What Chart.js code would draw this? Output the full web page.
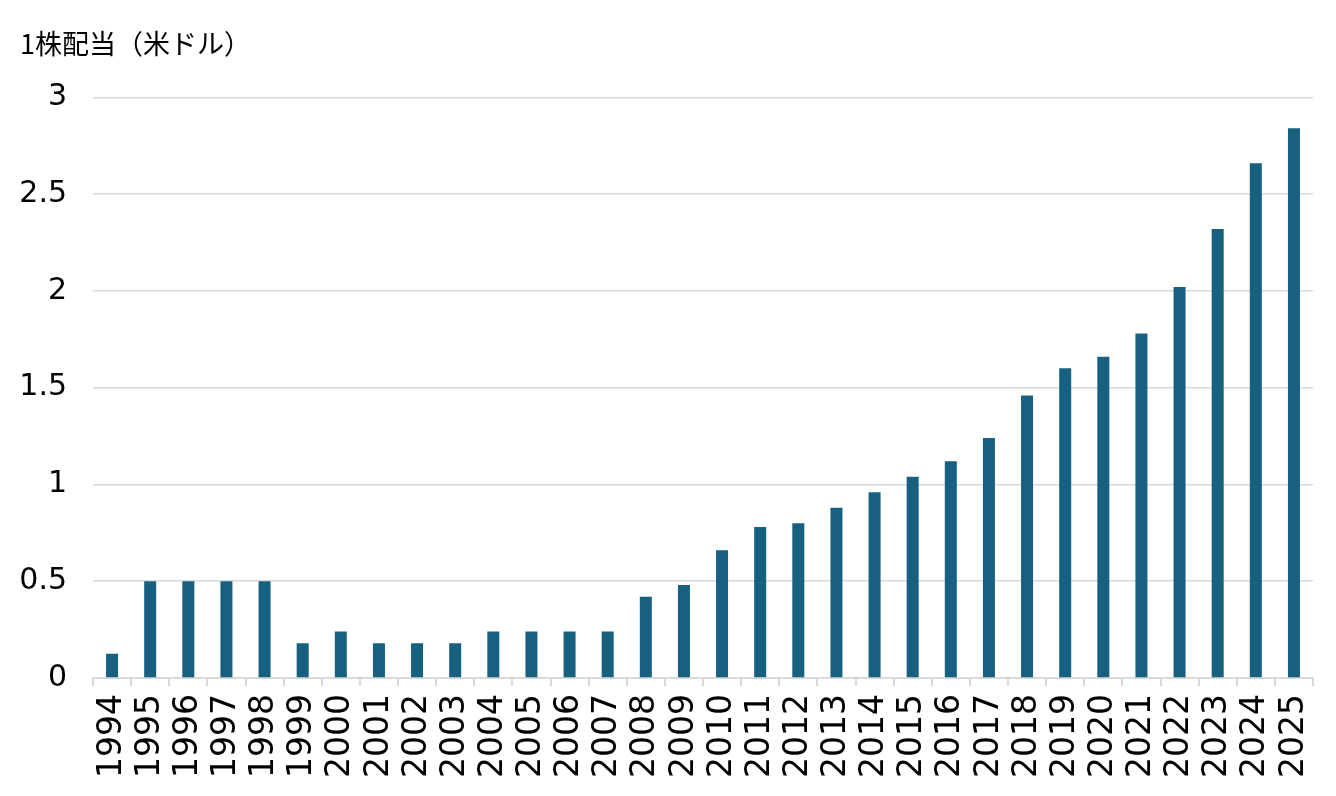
<!DOCTYPE html>
<html>
<head>
<meta charset="utf-8">
<script src="https://cdn.jsdelivr.net/npm/chart.js@4/dist/chart.umd.min.js"></script>
<style>
  html, body { margin: 0; padding: 0; background: #fff; }
  #wrap { width: 1336px; height: 796px; }
</style>
</head>
<body>
<div id="wrap"><canvas id="grafico_dividendo"></canvas></div>
<script>
/* 1株配当の推移（年次） */
const anos = [
  '1994', '1995', '1996', '1997', '1998', '1999', '2000', '2001',
  '2002', '2003', '2004', '2005', '2006', '2007', '2008', '2009',
  '2010', '2011', '2012', '2013', '2014', '2015', '2016', '2017',
  '2018', '2019', '2020', '2021', '2022', '2023', '2024', '2025'
];

const dividendos = [
  0.125, 0.5, 0.5, 0.5, 0.5, 0.18, 0.24, 0.18,
  0.18, 0.18, 0.24, 0.24, 0.24, 0.24, 0.42, 0.48,
  0.66, 0.78, 0.80, 0.88, 0.96, 1.04, 1.12, 1.24,
  1.46, 1.60, 1.66, 1.78, 2.02, 2.32, 2.66, 2.84
];

const titulo = '1株配当（米ドル）';

const fonte_titulo = '"Noto Sans CJK JP", sans-serif';
const fonte_num = '"DejaVu Sans", sans-serif';
const cinza = '#d9d9d9';

const data_dividendo = {
  labels: anos,
  datasets: [{
    label: titulo,
    data: dividendos,
    backgroundColor: '#17607f',
    categoryPercentage: 1,
    barPercentage: 0.315
  }]
};

const config_dividendo = {
  type: 'bar',
  data: data_dividendo,
  options: {
    responsive: true,
    maintainAspectRatio: false,
    animation: false,
    layout: { padding: { top: 20, left: 20, right: 23, bottom: 0 } },
    plugins: {
      legend: { display: false },
      tooltip: { enabled: false },
      title: {
        display: true,
        text: titulo,
        align: 'start',
        color: '#000',
        font: { family: fonte_titulo, size: 27, weight: 'normal' },
        padding: { top: 8, bottom: 37 }
      }
    },
    scales: {
      x: {
        grid: {
          offset: true,
          drawOnChartArea: false,
          drawTicks: true,
          tickLength: 8,
          color: cinza,
          lineWidth: 2
        },
        border: { color: cinza, width: 2 },
        ticks: {
          autoSkip: false,
          maxRotation: 90,
          minRotation: 90,
          padding: 8,
          color: '#000',
          font: { family: fonte_num, size: 33 }
        },
        afterFit: function (scale) {
          scale.height = 118;
          scale.paddingLeft = 0;
          scale.paddingRight = 0;
        }
      },
      y: {
        min: 0,
        max: 3,
        grid: {
          drawTicks: false,
          color: cinza,
          lineWidth: 1.5
        },
        border: { display: false },
        ticks: {
          stepSize: 0.5,
          padding: 26,
          color: '#000',
          font: { family: fonte_num, size: 30 },
          callback: function (v) { return String(v); }
        },
        afterFit: function (scale) { scale.width = 73; }
      }
    }
  }
};

const grafico_dividendo = new Chart(
  document.getElementById('grafico_dividendo'),
  config_dividendo
);
</script>
</body>
</html>
